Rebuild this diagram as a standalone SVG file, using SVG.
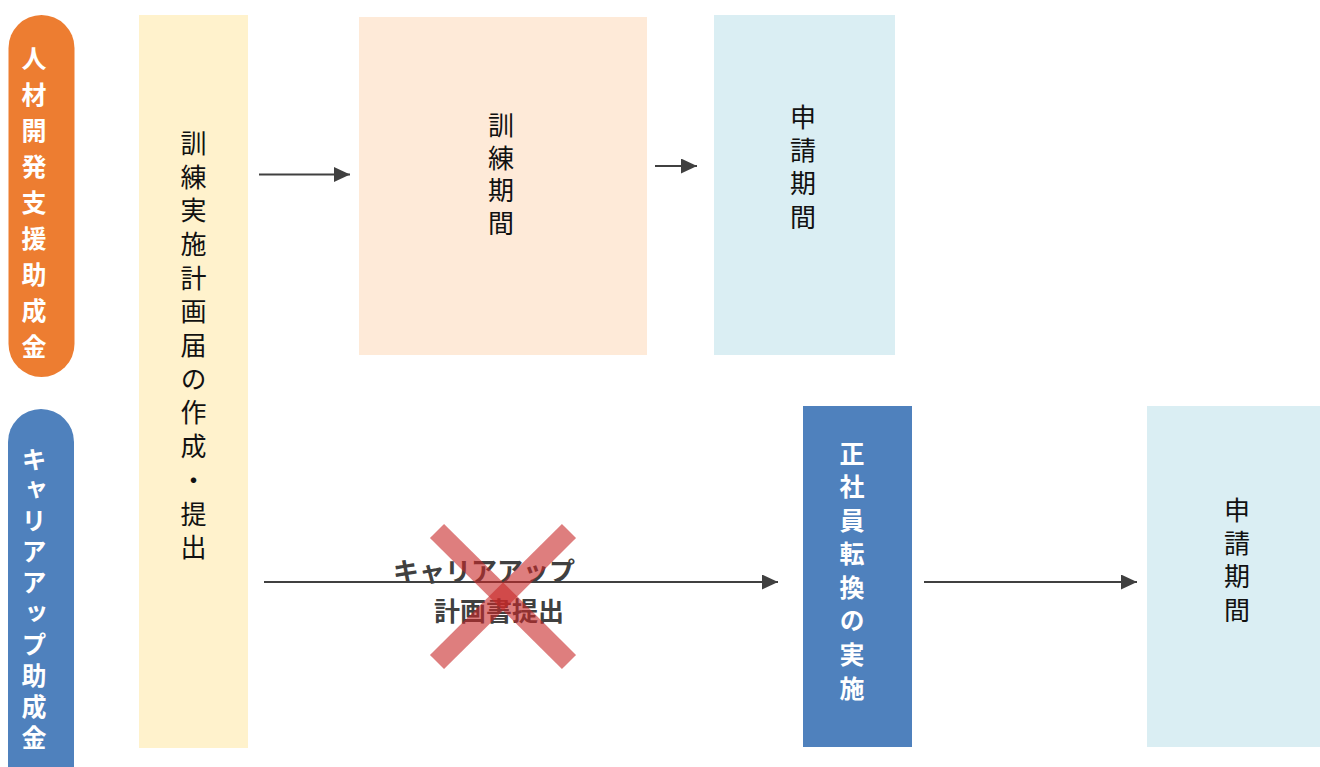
<svg xmlns="http://www.w3.org/2000/svg" width="1320" height="767" viewBox="0 0 1320 767">
<defs>
<style>
.v{font-family:"Noto Sans CJK JP","Noto Sans CJK SC",sans-serif;writing-mode:vertical-rl;text-orientation:upright}
.t{font-size:26px;fill:#111}
.w{font-size:25px;font-weight:bold;fill:#fff}
.lbl{font-family:"Noto Sans CJK JP","Noto Sans CJK SC",sans-serif;font-size:26px;font-weight:bold;fill:#404040;text-anchor:middle}
.arr{stroke:#404040;stroke-width:2;fill:none;marker-end:url(#ah)}
</style>
<marker id="ah" markerWidth="16" markerHeight="15" refX="16" refY="7.5" orient="auto" markerUnits="userSpaceOnUse">
<path d="M0,0 L16,7.5 L0,15 Z" fill="#404040"/>
</marker>
</defs>
<rect width="1320" height="767" fill="#fff"/>

<g id="pill-jinzai">
<rect x="8.5" y="15" width="66" height="362" rx="33" fill="#ED7D31"/>
<text class="v w" x="34" y="45.5" letter-spacing="11.1">人材開発支援助成金</text>
</g>

<g id="pill-career">
<rect x="8" y="409" width="66" height="400" rx="33" fill="#4F81BD"/>
<text class="v w" x="34" y="446.5" letter-spacing="5.9">キャリアアップ助成金</text>
</g>

<g id="plan">
<rect x="139" y="15" width="109" height="733" fill="#FFF2CC"/>
<text class="v t" x="193.5" y="130" letter-spacing="7.7">訓練実施計画届の作成・提出</text>
</g>

<g id="training">
<rect x="359" y="17" width="288" height="338" fill="#FEEAD8"/>
<text class="v t" x="501" y="112" letter-spacing="6.7">訓練期間</text>
</g>

<g id="apply1">
<rect x="714" y="15" width="181" height="340" fill="#DAEEF3"/>
<text class="v t" x="803" y="104" letter-spacing="7.3">申請期間</text>
</g>

<g id="convert">
<rect x="803" y="406" width="109" height="341" fill="#4F81BD"/>
<text class="v w" x="852" y="440.5" letter-spacing="8.6">正社員転換の実施</text>
</g>

<g id="apply2">
<rect x="1147" y="406" width="173" height="341" fill="#DAEEF3"/>
<text class="v t" x="1237" y="497" letter-spacing="7.3">申請期間</text>
</g>

<g id="connectors">
<line class="arr" x1="259" y1="174.5" x2="350" y2="174.5"/>
<line class="arr" x1="655" y1="166" x2="697" y2="166"/>
<line class="arr" x1="264" y1="582" x2="778" y2="582"/>
<line class="arr" x1="924" y1="582" x2="1137" y2="582"/>
</g>

<g id="label-career-plan">
<text class="lbl" x="484" y="581">キャリアアップ</text>
<text class="lbl" x="499" y="621">計画書提出</text>
</g>

<g id="cross" stroke="rgb(200,40,40)" stroke-opacity="0.6" stroke-width="20" stroke-linecap="butt">
<line x1="437" y1="531" x2="569" y2="662"/>
<line x1="569" y1="531" x2="437" y2="662"/>
</g>
</svg>
